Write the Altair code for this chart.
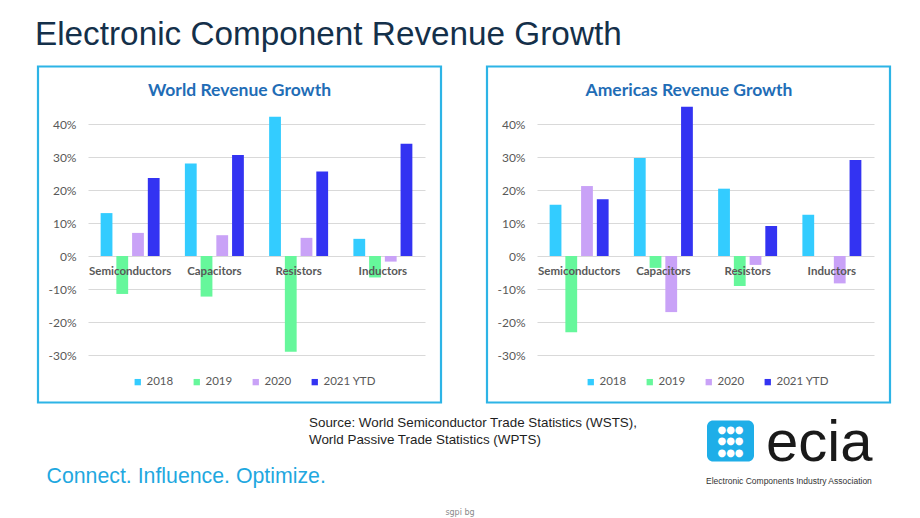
import altair as alt
import pandas as pd

# ---------------- data ----------------
categories = ["Semiconductors", "Capacitors", "Resistors", "Inductors"]
years = ["2018", "2019", "2020", "2021 YTD"]
colors = ["#33CCFF", "#66F79B", "#C9A2F7", "#3333F2"]

world_2018 = [13.0, 28.0, 42.2, 5.2]
world_2019 = [-11.5, -12.3, -29.0, -6.5]
world_2020 = [7.0, 6.3, 5.5, -1.7]
world_2021 = [23.6, 30.6, 25.6, 34.0]

americas_2018 = [15.5, 29.7, 20.4, 12.5]
americas_2019 = [-23.1, -3.6, -9.1, 0.0]
americas_2020 = [21.2, -17.0, -2.7, -8.3]
americas_2021 = [17.2, 45.2, 9.1, 29.1]

y_ticks = [-30, -20, -10, 0, 10, 20, 30, 40]

page_title = "Electronic Component Revenue Growth"
source_lines = ["Source: World Semiconductor Trade Statistics (WSTS),",
                "World Passive Trade Statistics (WPTS)"]
slogan = "Connect. Influence. Optimize."


def to_df(series):
    rows = []
    for yr, vals in zip(years, series):
        for c, v in zip(categories, vals):
            rows.append({"Category": c, "Year": yr, "Growth": v})
    return pd.DataFrame(rows)


world_df = to_df([world_2018, world_2019, world_2020, world_2021])
americas_df = to_df([americas_2018, americas_2019, americas_2020, americas_2021])
cat_df = pd.DataFrame({"Category": categories})

W = 337
H = 231
one = alt.Data(values=[{}])

LABEL_FONT = "Lato"
GRAY = "#595959"
BOX = "#2DB4E6"


def text_at(txt, x, y, **kw):
    return alt.Chart(one).mark_text(text=txt, **kw).encode(
        x=alt.value(x), y=alt.value(y))


def panel(df, title, title_x, legend_x):
    base = alt.Chart(df)
    bars = base.mark_bar().encode(
        x=alt.X("Category:N", sort=categories, title=None,
                scale=alt.Scale(paddingInner=0.3, paddingOuter=0.15),
                axis=None),
        xOffset=alt.XOffset("Year:N", sort=years,
                            scale=alt.Scale(paddingInner=0.25, paddingOuter=0)),
        y=alt.Y("Growth:Q", title=None,
                scale=alt.Scale(domain=[-30, 40], nice=False),
                axis=alt.Axis(values=y_ticks, labelExpr="datum.value + '%'",
                              domain=False, ticks=False, grid=True,
                              gridColor="#D9D9D9", gridWidth=1,
                              labelOverlap=False, labelFlush=False,
                              labelFont=LABEL_FONT, labelFontSize=12,
                              labelColor=GRAY, labelPadding=12)),
        color=alt.Color("Year:N", sort=years,
                        scale=alt.Scale(domain=years, range=colors),
                        legend=alt.Legend(orient="none", legendX=legend_x,
                                          legendY=252, direction="horizontal",
                                          title=None, symbolType="square",
                                          symbolSize=40, symbolStrokeWidth=0,
                                          labelFont=LABEL_FONT, labelFontSize=11.5,
                                          labelColor=GRAY, labelOffset=3,
                                          columnPadding=17, padding=0)),
    )
    cat_labels = alt.Chart(cat_df).mark_text(
        font=LABEL_FONT, fontSize=11.5, fontWeight="bold", color=GRAY,
        baseline="middle", dy=16
    ).encode(
        x=alt.X("Category:N", sort=categories, axis=None),
        y=alt.YDatum(0, axis=None),
        text="Category:N",
    )
    box = alt.Chart(one).mark_rect(
        fill=None, stroke=BOX, strokeWidth=2.2
    ).encode(x=alt.value(-50), x2=alt.value(353),
             y=alt.value(-57.5), y2=alt.value(278.5))
    ttl = text_at(title, title_x, -28.5, font=LABEL_FONT, fontSize=17.5,
                  fontWeight="bold", color="#1F6DB6", align="center",
                  baseline="alphabetic")
    return box, bars, cat_labels, ttl


# left panel (origin at plot area top-left = page (88, 123.5))
page = alt.Chart(one).mark_rect(opacity=0, strokeWidth=0).encode(
    x=alt.value(-88), x2=alt.value(832), y=alt.value(-123.5), y2=alt.value(394.5))

lbox, lbars, lcats, lttl = panel(world_df, "World Revenue Growth", 151.5, 44)

SANS = "Liberation Sans"
decor = [
    text_at(page_title, -53, -79.5, font=SANS, fontSize=33.3,
            color="#14304A", align="left", baseline="alphabetic"),
    text_at(source_lines[0], 221, 302.5, font=SANS,
            fontSize=13.4, color="#1E1E1E", align="left", baseline="alphabetic"),
    text_at(source_lines[1], 221, 319.5, font=SANS,
            fontSize=13.4, color="#1E1E1E", align="left", baseline="alphabetic"),
    text_at(slogan, -41.5, 359, font=SANS,
            fontSize=21.3, color="#1FA8E0", align="left", baseline="alphabetic"),
    text_at("sgpi bg", 372, 389, font="DejaVu Sans", fontSize=8,
            color="#8A8A8A", align="center", baseline="middle"),
    # logo
    alt.Chart(one).mark_rect(fill="#1EAEE8", cornerRadius=6).encode(
        x=alt.value(619), x2=alt.value(666), y=alt.value(296.5), y2=alt.value(337.5)),
    text_at("●●●", 642.5, 305.5, font="DejaVu Sans", fontSize=10, color="white",
            align="center", baseline="middle"),
    text_at("●●●", 642.5, 317, font="DejaVu Sans", fontSize=10, color="white",
            align="center", baseline="middle"),
    text_at("●●●", 642.5, 328.5, font="DejaVu Sans", fontSize=10, color="white",
            align="center", baseline="middle"),
    text_at("ecia", 678, 337, font=SANS, fontSize=58,
            color="#1A1A1A", align="left", baseline="alphabetic"),
    text_at("Electronic Components Industry Association", 618, 357,
            font=SANS, fontSize=8.5,
            color="#333333", align="left", baseline="middle"),
]

left = alt.layer(page, lbox, lbars, lcats, lttl, *decor).resolve_axis(
    y="independent", x="independent").properties(width=W, height=H)

rbox, rbars, rcats, rttl = panel(americas_df, "Americas Revenue Growth", 152, 48)
right = alt.layer(rbox, rbars, rcats, rttl).resolve_axis(
    y="independent", x="independent").properties(width=W, height=H)

chart = alt.hconcat(left, right, spacing=112, bounds="flush").resolve_scale(
    x="independent", y="independent", color="shared"
).resolve_legend(color="independent").properties(
    padding=0, autosize=alt.AutoSizeParams(type="pad")
).configure(background="white").configure_view(strokeWidth=0, stroke=None)

chart.save("out.html", embed_options={"renderer": "svg", "actions": False})
